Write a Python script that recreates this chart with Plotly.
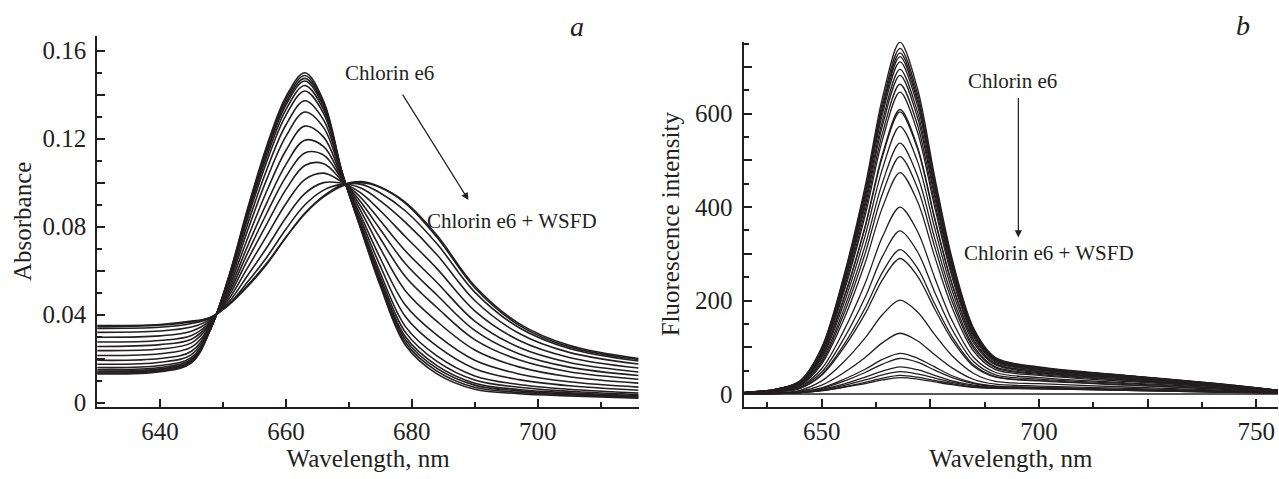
import plotly.graph_objects as go

# ---------------- Panel a: absorbance ----------------
wl_abs = [630, 640, 645, 648, 651, 654, 657, 660, 663, 666, 669, 672, 675, 679, 684, 690, 697, 705, 716]

abs_01 = [0.0130, 0.0140, 0.0180, 0.0330, 0.0580, 0.0890, 0.1170, 0.1390, 0.1500, 0.1370, 0.1040, 0.0780, 0.0530, 0.0260, 0.0130, 0.0060, 0.0040, 0.0030, 0.0020]
abs_02 = [0.0134, 0.0144, 0.0184, 0.0331, 0.0577, 0.0883, 0.1160, 0.1378, 0.1487, 0.1361, 0.1039, 0.0785, 0.0539, 0.0273, 0.0143, 0.0069, 0.0046, 0.0035, 0.0024]
abs_03 = [0.0139, 0.0149, 0.0188, 0.0333, 0.0575, 0.0875, 0.1148, 0.1364, 0.1474, 0.1353, 0.1038, 0.0789, 0.0548, 0.0286, 0.0155, 0.0079, 0.0053, 0.0039, 0.0027]
abs_04 = [0.0143, 0.0153, 0.0191, 0.0334, 0.0571, 0.0869, 0.1138, 0.1352, 0.1462, 0.1344, 0.1037, 0.0794, 0.0557, 0.0299, 0.0168, 0.0088, 0.0059, 0.0044, 0.0031]
abs_05 = [0.0150, 0.0159, 0.0197, 0.0335, 0.0568, 0.0858, 0.1121, 0.1332, 0.1442, 0.1331, 0.1036, 0.0800, 0.0571, 0.0319, 0.0187, 0.0102, 0.0069, 0.0051, 0.0036]
abs_06 = [0.0159, 0.0168, 0.0205, 0.0337, 0.0562, 0.0843, 0.1099, 0.1306, 0.1417, 0.1314, 0.1034, 0.0809, 0.0589, 0.0345, 0.0212, 0.0121, 0.0082, 0.0060, 0.0043]
abs_07 = [0.0174, 0.0183, 0.0218, 0.0341, 0.0552, 0.0818, 0.1062, 0.1262, 0.1372, 0.1284, 0.1030, 0.0825, 0.0620, 0.0390, 0.0256, 0.0154, 0.0104, 0.0076, 0.0056]
abs_08 = [0.0192, 0.0200, 0.0233, 0.0346, 0.0541, 0.0789, 0.1018, 0.1210, 0.1321, 0.1250, 0.1026, 0.0843, 0.0656, 0.0442, 0.0306, 0.0192, 0.0130, 0.0094, 0.0070]
abs_09 = [0.0214, 0.0222, 0.0252, 0.0350, 0.0527, 0.0753, 0.0964, 0.1146, 0.1257, 0.1207, 0.1021, 0.0866, 0.0701, 0.0507, 0.0369, 0.0239, 0.0162, 0.0117, 0.0088]
abs_10 = [0.0236, 0.0243, 0.0271, 0.0356, 0.0513, 0.0717, 0.0910, 0.1082, 0.1193, 0.1164, 0.1016, 0.0888, 0.0746, 0.0572, 0.0432, 0.0286, 0.0194, 0.0140, 0.0106]
abs_11 = [0.0255, 0.0263, 0.0288, 0.0361, 0.0500, 0.0685, 0.0863, 0.1026, 0.1135, 0.1125, 0.1012, 0.0908, 0.0787, 0.0631, 0.0489, 0.0328, 0.0222, 0.0161, 0.0123]
abs_12 = [0.0275, 0.0282, 0.0305, 0.0366, 0.0487, 0.0653, 0.0814, 0.0968, 0.1078, 0.1086, 0.1007, 0.0929, 0.0827, 0.0689, 0.0546, 0.0370, 0.0251, 0.0182, 0.0139]
abs_13 = [0.0297, 0.0303, 0.0324, 0.0372, 0.0473, 0.0617, 0.0760, 0.0904, 0.1014, 0.1043, 0.1002, 0.0951, 0.0872, 0.0754, 0.0609, 0.0417, 0.0283, 0.0205, 0.0157]
abs_14 = [0.0319, 0.0325, 0.0343, 0.0378, 0.0459, 0.0581, 0.0706, 0.0840, 0.0950, 0.1000, 0.0997, 0.0974, 0.0917, 0.0819, 0.0672, 0.0464, 0.0315, 0.0228, 0.0175]
abs_15 = [0.0337, 0.0342, 0.0359, 0.0383, 0.0449, 0.0551, 0.0662, 0.0788, 0.0898, 0.0966, 0.0993, 0.0992, 0.0953, 0.0871, 0.0722, 0.0502, 0.0341, 0.0246, 0.0189]
abs_16 = [0.0350, 0.0355, 0.0370, 0.0386, 0.0445, 0.0530, 0.0630, 0.0750, 0.0860, 0.0940, 0.0990, 0.1005, 0.0980, 0.0910, 0.0760, 0.0530, 0.0360, 0.0260, 0.0200]
abs_17 = [0.0345, 0.0352, 0.0366, 0.0388, 0.0448, 0.0535, 0.0635, 0.0752, 0.0858, 0.0935, 0.0985, 0.1000, 0.0978, 0.0906, 0.0752, 0.0522, 0.0352, 0.0253, 0.0196]

abs_curves = [abs_01, abs_02, abs_03, abs_04, abs_05, abs_06, abs_07, abs_08, abs_09,
              abs_10, abs_11, abs_12, abs_13, abs_14, abs_15, abs_16, abs_17]

# ---------------- Panel b: fluorescence ----------------
wl_fl = [632, 640, 645, 650, 655, 660, 664, 668, 672, 676, 680, 685, 690, 700, 720, 740, 755]

fl_01 = [3, 11, 28, 100, 250, 445, 635, 753, 655, 465, 290, 140, 78, 58, 40, 23, 8]
fl_02 = [3, 11, 28, 98, 246, 437, 624, 740, 644, 457, 285, 138, 77, 57, 39, 23, 8]
fl_03 = [3, 11, 27, 97, 242, 432, 616, 730, 635, 451, 281, 136, 76, 56, 39, 22, 8]
fl_04 = [3, 11, 27, 96, 240, 427, 609, 722, 628, 446, 278, 135, 75, 56, 39, 22, 8]
fl_05 = [3, 11, 27, 95, 236, 420, 600, 711, 619, 439, 274, 133, 74, 55, 38, 22, 8]
fl_06 = [3, 10, 26, 93, 231, 411, 586, 695, 605, 430, 268, 130, 73, 54, 37, 22, 7]
fl_07 = [3, 10, 26, 91, 227, 403, 575, 682, 593, 422, 263, 128, 72, 53, 37, 21, 7]
fl_08 = [3, 10, 25, 88, 220, 392, 559, 663, 577, 410, 256, 124, 70, 52, 36, 21, 7]
fl_09 = [3, 10, 24, 86, 215, 382, 545, 646, 562, 400, 250, 121, 68, 51, 35, 20, 7]
fl_10 = [3, 9, 23, 81, 203, 360, 514, 609, 530, 377, 236, 115, 65, 49, 34, 19, 7]
fl_11 = [3, 9, 23, 81, 201, 357, 509, 604, 526, 374, 234, 114, 64, 48, 33, 19, 7]
fl_12 = [2, 9, 22, 77, 191, 339, 483, 573, 499, 355, 222, 109, 62, 46, 32, 18, 6]
fl_13 = [2, 8, 20, 72, 179, 318, 453, 537, 468, 333, 209, 102, 58, 44, 30, 17, 6]
fl_14 = [2, 8, 19, 68, 169, 301, 429, 508, 442, 315, 198, 97, 56, 42, 29, 17, 6]
fl_15 = [2, 7, 18, 64, 158, 281, 400, 474, 413, 294, 185, 91, 52, 40, 27, 16, 5]
fl_16 = [2, 6, 16, 54, 134, 237, 337, 400, 349, 249, 157, 78, 46, 35, 24, 14, 5]
fl_17 = [2, 5, 14, 47, 117, 207, 295, 349, 305, 218, 138, 69, 41, 32, 22, 13, 4]
fl_18 = [1, 5, 12, 42, 104, 184, 261, 309, 270, 193, 123, 62, 37, 29, 20, 11, 4]
fl_19 = [1, 5, 12, 40, 98, 172, 245, 290, 253, 182, 116, 59, 36, 28, 19, 11, 4]
fl_20 = [1, 3, 8, 28, 68, 120, 170, 201, 176, 127, 82, 44, 27, 22, 15, 9, 3]
fl_21 = [1, 2, 6, 19, 45, 78, 110, 130, 114, 84, 56, 31, 21, 17, 12, 7, 2]
fl_22 = [1, 2, 4, 13, 31, 53, 74, 87, 77, 58, 39, 24, 17, 14, 10, 6, 2]
fl_23 = [1, 2, 4, 12, 27, 46, 64, 76, 68, 51, 35, 22, 16, 14, 9, 5, 2]
fl_24 = [0, 1, 3, 10, 21, 36, 49, 58, 52, 40, 28, 19, 14, 13, 9, 5, 2]
fl_25 = [0, 1, 3, 8, 18, 30, 41, 48, 43, 34, 25, 17, 13, 12, 8, 5, 2]
fl_26 = [0, 1, 3, 7, 15, 25, 34, 40, 36, 29, 22, 15, 13, 11, 8, 4, 2]
fl_27 = [0, 1, 3, 7, 14, 22, 30, 35, 32, 26, 20, 14, 12, 11, 8, 4, 2]
fl_28 = [0, 0, 0, 0, 0, 0, 0, 0, 0, 0, 0, 0, 0, 0, 0, 0, 0]

fl_curves = [fl_01, fl_02, fl_03, fl_04, fl_05, fl_06, fl_07, fl_08, fl_09, fl_10,
             fl_11, fl_12, fl_13, fl_14, fl_15, fl_16, fl_17, fl_18, fl_19, fl_20,
             fl_21, fl_22, fl_23, fl_24, fl_25, fl_26, fl_27, fl_28]

# tick labels
abs_tickvals = [0, 0.02, 0.04, 0.06, 0.08, 0.10, 0.12, 0.14, 0.16]
abs_ticktext = ["0", "", "0.04", "", "0.08", "", "0.12", "", "0.16"]
abs_xtickvals = [640, 660, 680, 700]
abs_xticktext = ["640", "660", "680", "700"]
fl_tickvals = [0, 100, 200, 300, 400, 500, 600, 700]
fl_ticktext = ["0", "", "200", "", "400", "", "600", ""]
fl_xtickvals = [650, 675, 700, 725, 750]
fl_xticktext = ["650", "", "700", "", "750"]

INK = "#231f20"
FONT = "Liberation Serif"

fig = go.Figure()
for c in abs_curves:
    fig.add_trace(go.Scatter(x=wl_abs, y=c, mode="lines", xaxis="x", yaxis="y",
                             line=dict(color=INK, width=1.6, shape="spline", smoothing=1.0),
                             showlegend=False, hoverinfo="skip"))
for c in fl_curves:
    fig.add_trace(go.Scatter(x=wl_fl, y=c, mode="lines", xaxis="x2", yaxis="y2",
                             line=dict(color=INK, width=1.3, shape="spline", smoothing=0.9),
                             showlegend=False, hoverinfo="skip"))

W, H = 1279, 479
def px(v): return v / W
def py(v): return 1 - v / H

axis_common = dict(showgrid=False, zeroline=False, showline=True, linecolor=INK, linewidth=2,
                   ticks="inside", tickcolor=INK, tickwidth=1.5, ticklen=8, mirror=False,
                   automargin=False,
                   tickfont=dict(family=FONT, size=25, color=INK))
title_font = dict(family=FONT, size=25, color=INK)
minor_common = dict(ticks="inside", ticklen=5, tickcolor=INK, tickwidth=1.5)

fig.update_layout(
    width=W, height=H,
    margin=dict(l=0, r=0, t=0, b=0),
    paper_bgcolor="white", plot_bgcolor="white",
    font=dict(family=FONT, color=INK),
    xaxis=dict(domain=[px(97.3), px(639)], range=[630.04, 716.1], anchor="y",
               tickmode="array", tickvals=abs_xtickvals, ticktext=abs_xticktext,
               minor=dict(dtick=10, tick0=630, **minor_common),
               title=dict(text="Wavelength, nm", font=title_font, standoff=0),
               ticklabelstandoff=1, **axis_common),
    yaxis=dict(domain=[py(406.7), py(36)], range=[-0.00191, 0.16668], anchor="x",
               tickmode="array", tickvals=abs_tickvals, ticktext=abs_ticktext,
               minor=dict(dtick=0.01, tick0=0, **minor_common),
               title=dict(text="Absorbance", font=title_font, standoff=4),
               ticklabelstandoff=4, **axis_common),
    xaxis2=dict(domain=[px(743.5), px(1278)], range=[632.0, 755.0], anchor="y2",
                tickmode="array", tickvals=fl_xtickvals, ticktext=fl_xticktext,
                minor=dict(dtick=12.5, tick0=650, **minor_common),
                title=dict(text="Wavelength, nm", font=title_font, standoff=0),
                ticklabelstandoff=1, **axis_common),
    yaxis2=dict(domain=[py(406.7), py(41.7)], range=[-27.2, 754.1], anchor="x2",
                tickmode="array", tickvals=fl_tickvals, ticktext=fl_ticktext,
                minor=dict(dtick=50, tick0=0, **minor_common),
                title=dict(text="Fluorescence intensity", font=title_font, standoff=8),
                ticklabelstandoff=4, **axis_common),
)

ann_font = dict(family=FONT, size=21, color=INK)
fig.add_annotation(x=676.5, y=0.1498, xref="x", yref="y", text="Chlorin e6",
                   showarrow=False, font=ann_font)
fig.add_annotation(x=689.0, y=0.0921, ax=678.4, ay=0.1407, xref="x", yref="y",
                   axref="x", ayref="y", text="", showarrow=True, arrowhead=2,
                   arrowsize=1.2, arrowwidth=1.2, arrowcolor=INK, standoff=0, startstandoff=0)
fig.add_annotation(x=696.0, y=0.0825, xref="x", yref="y", text="Chlorin e6 + WSFD",
                   showarrow=False, font=ann_font)

fig.add_annotation(x=693.9, y=669.5, xref="x2", yref="y2", text="Chlorin e6",
                   showarrow=False, font=ann_font)
fig.add_annotation(x=695.25, y=335, ax=695.25, ay=637, xref="x2", yref="y2",
                   axref="x2", ayref="y2", text="", showarrow=True, arrowhead=2,
                   arrowsize=1.2, arrowwidth=1.2, arrowcolor=INK, standoff=0, startstandoff=0)
fig.add_annotation(x=702.4, y=302.6, xref="x2", yref="y2", text="Chlorin e6 + WSFD",
                   showarrow=False, font=ann_font)

fig.add_annotation(x=px(577), y=py(27), xref="paper", yref="paper", text="<i>a</i>",
                   xanchor="center", yanchor="middle",
                   showarrow=False, font=dict(family=FONT, size=28, color=INK))
fig.add_annotation(x=px(1243), y=py(25), xref="paper", yref="paper", text="<i>b</i>",
                   xanchor="center", yanchor="middle",
                   showarrow=False, font=dict(family=FONT, size=28, color=INK))

fig.write_html("out.html", config={"displayModeBar": False},
               post_script="document.body.style.margin='0';document.body.style.overflow='hidden';")
